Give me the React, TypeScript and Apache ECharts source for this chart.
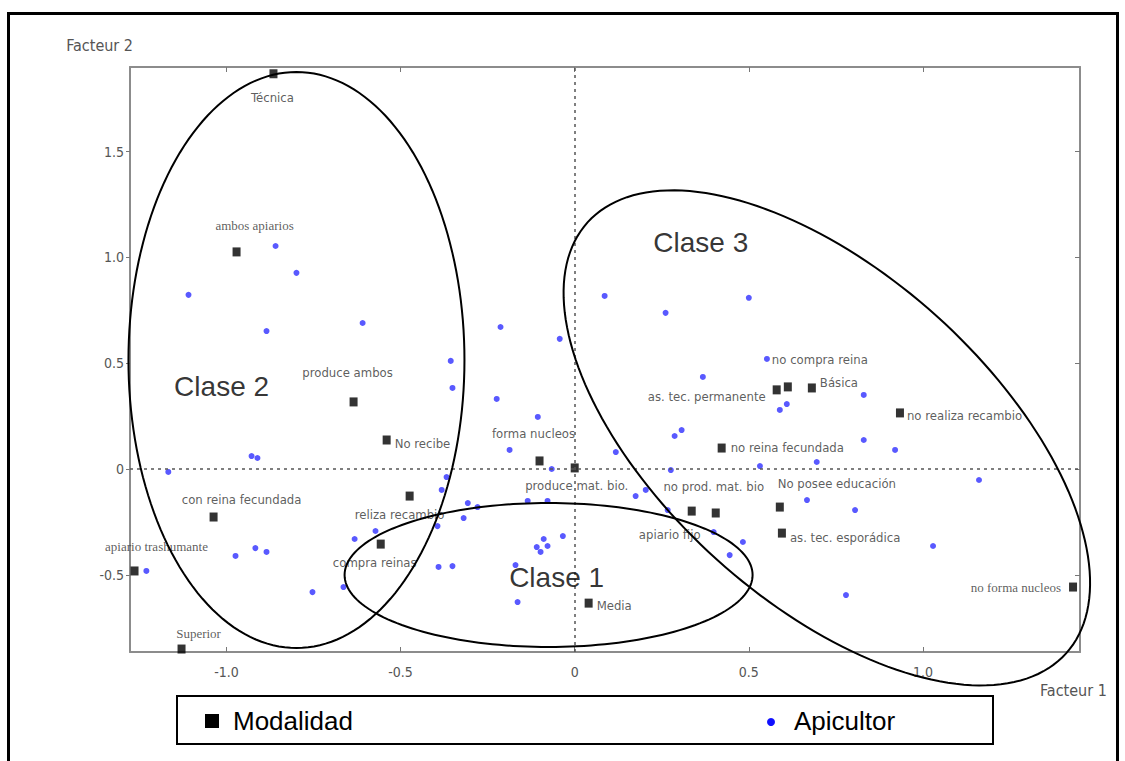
import React, { useEffect, useRef } from 'react';
import * as echarts from 'echarts';

// ---- data ----
const modalities = [
  'Técnica', 'ambos apiarios', 'produce ambos', 'No recibe', 'con reina fecundada',
  'reliza recambio', 'compra reinas', 'apiario trashumante', 'Superior', 'forma nucleos',
  'produce mat. bio.', 'Media', 'apiario fijo', 'no prod. mat. bio', 'as. tec. permanente',
  'no compra reina', 'Básica', 'no realiza recambio', 'no reina fecundada', 'No posee educación',
  'as. tec. esporádica', 'no forma nucleos',
];
const modalityX = [
  -0.865, -0.971, -0.635, -0.540, -1.037,
  -0.474, -0.557, -1.264, -1.129, -0.101,
  0.000, 0.040, 0.336, 0.405, 0.580,
  0.612, 0.681, 0.934, 0.422, 0.589,
  0.595, 1.431,
];
const modalityY = [
  1.868, 1.026, 0.317, 0.137, -0.227,
  -0.128, -0.355, -0.482, -0.851, 0.038,
  0.005, -0.634, -0.199, -0.208, 0.374,
  0.388, 0.383, 0.265, 0.099, -0.180,
  -0.303, -0.558,
];

const apicultorX = [
  -0.859, -1.109, -0.799, -0.609, -0.885, -0.356, -0.351, -0.928, -0.911, -1.167,
  -0.368, -0.382, -0.307, -0.279, -0.319, -0.394, -0.572, -0.632, -0.917, -0.885,
  -0.974, -1.230, -0.391, -0.351, -0.170, -0.753, -0.664, -0.164, -0.109, -0.089,
  -0.078, -0.098, -0.034, -0.135, -0.078, -0.213, -0.043, 0.086, 0.261, 0.500,
  -0.224, -0.106, -0.187, -0.066, 0.118, 0.287, 0.307, 0.368, 0.552, 0.589,
  0.609, 0.276, 0.532, 0.695, 0.204, 0.175, 0.267, 0.667, 0.399, 0.483,
  0.445, 0.830, 0.830, 0.920, 1.161, 0.805, 1.029, 0.779,
];
const apicultorY = [
  1.054, 0.823, 0.927, 0.690, 0.652, 0.511, 0.383, 0.061, 0.052, -0.014,
  -0.038, -0.099, -0.161, -0.180, -0.232, -0.270, -0.293, -0.331, -0.374, -0.392,
  -0.411, -0.482, -0.463, -0.459, -0.454, -0.582, -0.558, -0.629, -0.369, -0.331,
  -0.364, -0.392, -0.317, -0.151, -0.151, 0.671, 0.615, 0.818, 0.738, 0.809,
  0.331, 0.246, 0.090, 0.000, 0.080, 0.156, 0.184, 0.435, 0.520, 0.279,
  0.307, -0.005, 0.014, 0.033, -0.099, -0.128, -0.194, -0.147, -0.298, -0.345,
  -0.407, 0.350, 0.137, 0.090, -0.052, -0.194, -0.364, -0.596,
];

const xTickValues = [-1, -0.5, 0, 0.5, 1];
const yTickValues = [-0.5, 0, 0.5, 1, 1.5];

const classNames = ['Clase 1', 'Clase 2', 'Clase 3'];
const classCenterX = [-0.075, -0.799, 0.724];
const classCenterY = [-0.501, 0.515, 0.147];
const classTextX = [-0.052, -1.014, 0.362];
const classTextY = [-0.515, 0.392, 1.069];

// ---- styles / placement (not data) ----
const ellipseStyle = [
  { rx: 204, ry: 72, rot: 0 },
  { rx: 168, ry: 288, rot: 0 },
  { rx: 322, ry: 164, rot: 42 },
];

type Place = { m: 'c' | 'r' | 'l'; dx: number; dy: number; serif?: boolean };
const labelPlace: Place[] = [
  { m: 'c', dx: -1, dy: 24 },
  { m: 'c', dx: 18, dy: -26, serif: true },
  { m: 'c', dx: -6, dy: -29 },
  { m: 'r', dx: 4, dy: 3 },
  { m: 'c', dx: 28, dy: -18 },
  { m: 'c', dx: -10, dy: 18 },
  { m: 'c', dx: -6, dy: 18 },
  { m: 'c', dx: 22, dy: -24, serif: true },
  { m: 'c', dx: 17, dy: -16, serif: true },
  { m: 'c', dx: -6, dy: -27 },
  { m: 'c', dx: 2, dy: 18 },
  { m: 'r', dx: 4, dy: 2 },
  { m: 'c', dx: -22, dy: 23 },
  { m: 'c', dx: -2, dy: -26 },
  { m: 'l', dx: 7, dy: 7 },
  { m: 'c', dx: 32, dy: -27 },
  { m: 'r', dx: 4, dy: -5 },
  { m: 'r', dx: 3, dy: 3 },
  { m: 'r', dx: 5, dy: -1 },
  { m: 'c', dx: 57, dy: -24 },
  { m: 'r', dx: 4, dy: 4 },
  { m: 'l', dx: 8, dy: 0, serif: true },
];

const NARROW = "'DejaVu Sans Condensed', 'Liberation Sans Narrow', 'Arial Narrow', Arial, sans-serif";
const SERIF = "'Liberation Serif', 'Times New Roman', serif";
const ARIAL = "'Liberation Sans', Arial, sans-serif";

function fmt(v: number) {
  return v === 0 ? '0' : v.toFixed(1);
}

export default function App() {
  const ref = useRef<HTMLDivElement>(null);
  useEffect(() => {
    if (!ref.current) return;
    const chart = echarts.init(ref.current, null, { renderer: 'svg' });

    const modData = modalities.map((name, i) => {
      const p = labelPlace[i];
      const base: any = {
        show: true,
        formatter: name,
        color: '#333',
        fontFamily: p.serif ? SERIF : NARROW,
        fontSize: 13,
      };
      if (p.m === 'c') {
        Object.assign(base, { position: 'inside', offset: [p.dx, p.dy], align: 'center', verticalAlign: 'middle' });
      } else if (p.m === 'r') {
        Object.assign(base, { position: 'right', distance: p.dx, offset: [0, p.dy] });
      } else {
        Object.assign(base, { position: 'left', distance: p.dx, offset: [0, p.dy] });
      }
      return { value: [modalityX[i], modalityY[i]], name, label: base };
    });

    const apiData = apicultorX.map((x, i) => [x, apicultorY[i]]);

    const ellipseData = classNames.map((n, i) => [classCenterX[i], classCenterY[i], i]);
    const classLabelData = classNames.map((n, i) => ({ value: [classTextX[i], classTextY[i]], name: n }));

    const axisCommon = {
      type: 'value' as const,
      splitLine: { show: false },
      axisLine: { show: true, onZero: false, lineStyle: { color: '#8c8c8c', width: 2 } },
    };

    chart.setOption({
      animation: false,
      backgroundColor: '#ffffff',
      grid: { left: 130, top: 67, width: 950, height: 585, containLabel: false },
      xAxis: [
        {
          ...axisCommon,
          min: -1.277,
          max: 1.451,
          position: 'bottom',
          axisTick: { show: true, inside: true, length: 5, customValues: xTickValues, lineStyle: { color: '#777', width: 1 } },
          axisLabel: {
            customValues: xTickValues,
            formatter: fmt,
            color: '#555',
            fontFamily: NARROW,
            fontSize: 14,
            margin: 13,
          },
        },
        {
          ...axisCommon,
          min: -1.277,
          max: 1.451,
          position: 'top',
          axisTick: { show: true, inside: true, length: 5, customValues: xTickValues, lineStyle: { color: '#777', width: 1 } },
          axisLabel: { show: false },
        },
      ],
      yAxis: [
        {
          ...axisCommon,
          min: -0.865,
          max: 1.9,
          position: 'left',
          axisTick: { show: true, inside: false, length: 4, customValues: yTickValues, lineStyle: { color: '#777', width: 1 } },
          axisLabel: {
            customValues: yTickValues,
            formatter: fmt,
            color: '#555',
            fontFamily: NARROW,
            fontSize: 14,
            margin: 6,
          },
        },
        {
          ...axisCommon,
          min: -0.865,
          max: 1.9,
          position: 'right',
          axisTick: { show: true, inside: true, length: 5, customValues: yTickValues, lineStyle: { color: '#777', width: 1 } },
          axisLabel: { show: false },
        },
      ],
      series: [
        {
          type: 'scatter',
          name: 'Apicultor',
          symbol: 'circle',
          symbolSize: 6,
          itemStyle: { color: '#3030ff' },
          data: apiData,
          silent: true,
          markLine: {
            silent: true,
            symbol: 'none',
            label: { show: false },
            lineStyle: { color: '#555', type: [3, 4], width: 1.5 },
            data: [{ xAxis: 0 }, { yAxis: 0 }],
          },
          z: 3,
        },
        {
          type: 'scatter',
          name: 'Modalidad',
          symbol: 'rect',
          symbolSize: [8, 9],
          itemStyle: { color: '#000' },
          data: modData,
          silent: true,
          z: 4,
        },
        {
          type: 'custom',
          name: 'clusters',
          clip: false,
          silent: true,
          data: ellipseData,
          encode: { x: 0, y: 1 },
          renderItem: (params: any, api: any) => {
            const c = api.coord([api.value(0), api.value(1)]);
            const st = ellipseStyle[api.value(2)];
            const th = (st.rot * Math.PI) / 180;
            const pts: number[][] = [];
            const N = 180;
            for (let k = 0; k < N; k++) {
              const t = (k / N) * Math.PI * 2;
              const ex = st.rx * Math.cos(t);
              const ey = st.ry * Math.sin(t);
              pts.push([c[0] + ex * Math.cos(th) - ey * Math.sin(th), c[1] + ex * Math.sin(th) + ey * Math.cos(th)]);
            }
            return {
              type: 'polygon',
              shape: { points: pts },
              style: { fill: 'none', stroke: '#000', lineWidth: 2 },
            };
          },
          z: 5,
        },
        {
          type: 'scatter',
          name: 'classes',
          symbolSize: 0,
          silent: true,
          data: classLabelData,
          label: {
            show: true,
            position: 'inside',
            formatter: (p: any) => p.name,
            color: '#000',
            fontFamily: ARIAL,
            fontSize: 28,
            align: 'center',
            verticalAlign: 'middle',
          },
          z: 6,
        },
      ],
      graphic: [
        {
          type: 'rect',
          shape: { x: 8.5, y: 13.5, width: 1109, height: 900 },
          style: { fill: 'none', stroke: '#000', lineWidth: 3 },
          silent: true,
        },
        {
          type: 'text',
          x: 133,
          y: 45,
          style: { text: 'Facteur 2', fill: '#555', font: `16px ${NARROW}`, align: 'right', verticalAlign: 'middle' },
        },
        {
          type: 'text',
          x: 1040,
          y: 690,
          style: { text: 'Facteur 1', fill: '#555', font: `16px ${NARROW}`, align: 'left', verticalAlign: 'middle' },
        },
        {
          type: 'rect',
          shape: { x: 177, y: 696, width: 816, height: 48 },
          style: { fill: '#fff', stroke: '#000', lineWidth: 2 },
        },
        {
          type: 'rect',
          shape: { x: 205, y: 714, width: 14, height: 14 },
          style: { fill: '#000' },
        },
        {
          type: 'text',
          x: 233,
          y: 721,
          style: { text: 'Modalidad', fill: '#000', font: `26px ${ARIAL}`, verticalAlign: 'middle' },
        },
        {
          type: 'circle',
          shape: { cx: 771, cy: 722, r: 4 },
          style: { fill: '#1010ff' },
        },
        {
          type: 'text',
          x: 794,
          y: 721,
          style: { text: 'Apicultor', fill: '#000', font: `26px ${ARIAL}`, verticalAlign: 'middle' },
        },
      ],
    });
    return () => chart.dispose();
  }, []);
  return (
    <div
      ref={ref}
      style={{ position: 'absolute', left: 0, top: 0, width: 1125, height: 761, background: '#fff' }}
    />
  );
}
